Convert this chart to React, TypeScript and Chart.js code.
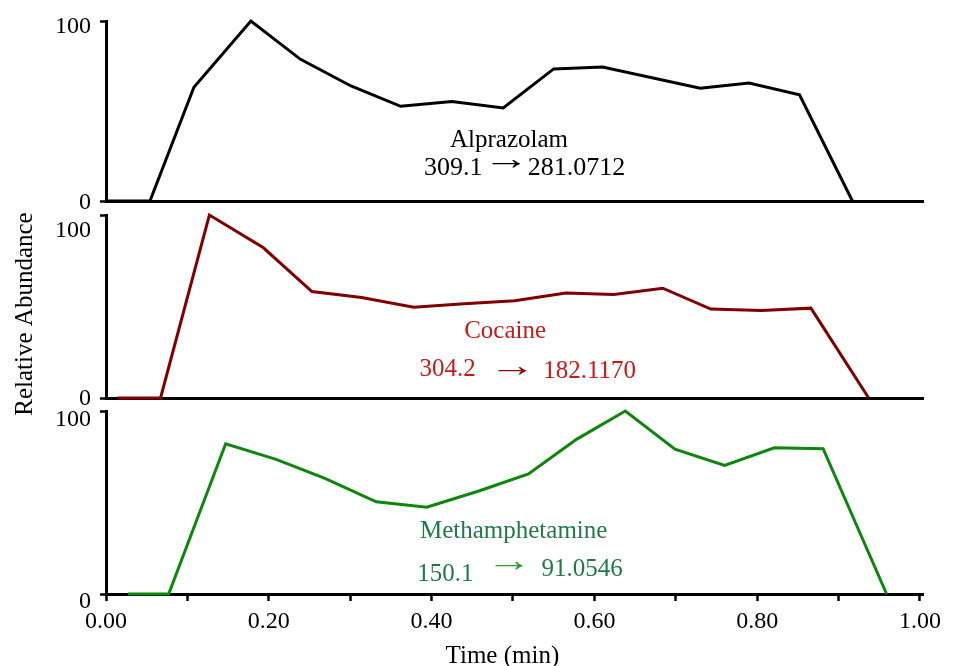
import React, { useEffect, useRef } from "react";
import { Chart, registerables } from "chart.js";

Chart.register(...registerables);

// ---------- data ----------
const alprazolamTime = [0.0, 0.054, 0.108, 0.178, 0.239, 0.301, 0.362, 0.425, 0.488, 0.55, 0.61, 0.73, 0.79, 0.852, 0.917];
const alprazolamAbundance = [0, 0, 63.2, 100, 78.7, 63.9, 52.6, 55.3, 51.7, 73.4, 74.4, 62.6, 65.6, 59.0, 0];

const cocaineTime = [0.014, 0.067, 0.127, 0.193, 0.253, 0.314, 0.378, 0.44, 0.502, 0.565, 0.624, 0.684, 0.743, 0.805, 0.866, 0.937];
const cocaineAbundance = [0, 0, 100, 82.2, 58.2, 54.9, 49.6, 51.5, 53.1, 57.4, 56.5, 60.0, 48.6, 47.8, 49.1, 0];

const methTime = [0.027, 0.077, 0.147, 0.209, 0.269, 0.332, 0.394, 0.459, 0.519, 0.578, 0.638, 0.699, 0.76, 0.821, 0.881, 0.959];
const methAbundance = [0, 0, 82.1, 73.6, 63.2, 50.4, 47.4, 56.4, 65.6, 84.5, 100, 79.1, 70.3, 79.9, 79.4, 0];

const xTickValues = [0, 0.1, 0.2, 0.3, 0.4, 0.5, 0.6, 0.7, 0.8, 0.9, 1.0];
const xTickLabels = ["0.00", "", "0.20", "", "0.40", "", "0.60", "", "0.80", "", "1.00"];
const yTickValues = [0, 100];
const yTickLabels = ["0", "100"];

const compoundNames = ["Alprazolam", "Cocaine", "Methamphetamine"];
const precursorIons = ["309.1", "304.2", "150.1"];
const productIons = ["281.0712", "182.1170", "91.0546"];

const xTitle = "Time (min)";
const yTitle = "Relative Abundance";

// ---------- layout / style ----------
const W = 954;
const H = 666;
const FONT = "'Liberation Serif', 'Times New Roman', Times, serif";
const X_MAX = 1.0037; // axis line runs a few pixels past the 1.00 tick

type TextItem = {
  text: string;
  x?: number;
  y?: number;
  px?: number;
  py?: number;
  color: string;
  size: number;
  align: CanvasTextAlign;
  baseline: CanvasTextBaseline;
  rotate?: number;
  width?: number; // stretch glyph ink to this width, centred on (x, y)
};

type Panel = {
  times: number[];
  values: number[];
  lineColor: string;
  top: number;
  bottom: number;
  showXAxis: boolean;
  yShift: number[];
  items: TextItem[];
};

const ARROW = "\u2192";

const panels: Panel[] = [
  {
    times: alprazolamTime,
    values: alprazolamAbundance,
    lineColor: "#000000",
    top: 19,
    bottom: 201,
    showXAxis: false,
    yShift: [2, 6],
    items: [
      { text: compoundNames[0], x: 0.4226, y: 30.2, color: "#000000", size: 25, align: "left", baseline: "alphabetic" },
      { text: precursorIons[0], x: 0.3907, y: 14.5, color: "#000000", size: 26, align: "left", baseline: "alphabetic" },
      { text: ARROW, x: 0.4914, y: 20.9, color: "#000000", size: 32, align: "center", baseline: "alphabetic", width: 29 },
      { text: productIons[0], x: 0.518, y: 14.5, color: "#000000", size: 26, align: "left", baseline: "alphabetic" },
    ],
  },
  {
    times: cocaineTime,
    values: cocaineAbundance,
    lineColor: "#800000",
    top: 215,
    bottom: 398,
    showXAxis: false,
    yShift: [1, 16],
    items: [
      { text: compoundNames[1], x: 0.44, y: 32.7, color: "#c81a1a", size: 25, align: "left", baseline: "alphabetic" },
      { text: precursorIons[1], x: 0.385, y: 11.8, color: "#c81a1a", size: 25, align: "left", baseline: "alphabetic" },
      { text: ARROW, x: 0.4988, y: 15.1, color: "#8b0a0a", size: 32, align: "center", baseline: "alphabetic", width: 29.5 },
      { text: productIons[1], x: 0.5372, y: 10.9, color: "#c81a1a", size: 25, align: "left", baseline: "alphabetic" },
      { text: yTitle, px: 31.5, py: 314, color: "#000000", size: 25, align: "center", baseline: "alphabetic", rotate: -Math.PI / 2 },
    ],
  },
  {
    times: methTime,
    values: methAbundance,
    lineColor: "#0c870c",
    top: 411,
    bottom: 594,
    showXAxis: true,
    yShift: [8, 9],
    items: [
      { text: compoundNames[2], x: 0.3857, y: 30.8, color: "#1e7b48", size: 25, align: "left", baseline: "alphabetic" },
      { text: precursorIons[2], x: 0.3824, y: 7.3, color: "#1e7b48", size: 25, align: "left", baseline: "alphabetic" },
      { text: ARROW, x: 0.495, y: 15.8, color: "#2e9a2e", size: 32, align: "center", baseline: "alphabetic", width: 28.5 },
      { text: productIons[2], x: 0.535, y: 10.0, color: "#1e7b48", size: 25, align: "left", baseline: "alphabetic" },
      { text: xTitle, x: 0.487, py: 663, color: "#000000", size: 25, align: "center", baseline: "alphabetic" },
    ],
  },
];

const textPlugin = {
  id: "panelText",
  afterDatasetsDraw(chart: any, _args: any, opts: any) {
    const items: TextItem[] = opts.items || [];
    const ctx: CanvasRenderingContext2D = chart.ctx;
    const xs = chart.scales.x;
    const ys = chart.scales.y;
    for (const it of items) {
      const px = it.px !== undefined ? it.px : xs.getPixelForValue(it.x as number);
      const py = it.py !== undefined ? it.py : ys.getPixelForValue(it.y as number);
      ctx.save();
      ctx.font = `${it.size}px ${FONT}`;
      ctx.fillStyle = it.color;
      ctx.translate(px, py);
      if (it.rotate) ctx.rotate(it.rotate);
      if (it.width) {
        ctx.textAlign = "left";
        ctx.textBaseline = "alphabetic";
        const m = ctx.measureText(it.text);
        const l = m.actualBoundingBoxLeft;
        const r = m.actualBoundingBoxRight;
        const inkW = l + r || m.width;
        const dy = (m.actualBoundingBoxAscent - m.actualBoundingBoxDescent) / 2;
        ctx.scale(it.width / inkW, 1);
        ctx.fillText(it.text, -(r - l) / 2, dy);
      } else {
        ctx.textAlign = it.align;
        ctx.textBaseline = it.baseline;
        ctx.fillText(it.text, 0, 0);
      }
      ctx.restore();
    }
  },
};

function buildConfig(p: Panel): any {
  const shiftFor = (v: number) => {
    const i = yTickValues.indexOf(v);
    return i >= 0 ? p.yShift[i] : 0;
  };
  return {
    type: "line",
    data: {
      datasets: [
        {
          data: p.times.map((t, i) => ({ x: t, y: p.values[i] })),
          borderColor: p.lineColor,
          borderWidth: 3,
          pointRadius: 0,
          tension: 0,
          fill: false,
          clip: false,
          borderJoinStyle: "miter",
        },
      ],
    },
    options: {
      responsive: false,
      animation: false,
      events: [],
      layout: {
        padding: {
          left: 0,
          right: 31,
          top: p.top,
          bottom: p.showXAxis ? 0 : H - p.bottom,
        },
      },
      plugins: {
        legend: { display: false },
        tooltip: { enabled: false },
        title: { display: false },
        panelText: { items: p.items },
      },
      scales: {
        x: {
          type: "linear",
          min: 0,
          max: X_MAX,
          afterBuildTicks: (scale: any) => {
            scale.ticks = xTickValues.map((v) => ({ value: v }));
          },
          afterFit: (scale: any) => {
            scale.height = p.showXAxis ? H - p.bottom : 0;
          },
          grid: {
            display: p.showXAxis,
            drawOnChartArea: false,
            drawTicks: true,
            tickLength: 7,
            tickWidth: 2.5,
            tickColor: "#000000",
          },
          border: { display: true, color: "#000000", width: 3 },
          ticks: {
            display: p.showXAxis,
            autoSkip: false,
            maxRotation: 0,
            minRotation: 0,
            padding: 6,
            color: "#000000",
            font: { family: FONT, size: 24 },
            callback: (_v: any, i: number) => xTickLabels[i],
          },
        },
        y: {
          type: "linear",
          min: 0,
          max: 100,
          afterBuildTicks: (scale: any) => {
            scale.ticks = yTickValues.map((v) => ({ value: v }));
          },
          afterFit: (scale: any) => {
            scale.width = 106;
          },
          grid: {
            display: true,
            drawOnChartArea: false,
            drawTicks: true,
            tickLength: 6,
            tickWidth: 2.5,
            tickColor: "#000000",
          },
          border: { display: true, color: "#000000", width: 3 },
          ticks: {
            padding: 9,
            color: "#000000",
            font: (ctx: any) => {
              const v = ctx.tick ? ctx.tick.value : 0;
              const s = shiftFor(v);
              return { family: FONT, size: 24, lineHeight: s > 0 ? `${2 * s}px` : 1.2 };
            },
            callback: (v: any) => {
              const label = yTickLabels[yTickValues.indexOf(v)] ?? String(v);
              return shiftFor(v) > 0 ? ["", label] : label;
            },
          },
        },
      },
    },
    plugins: [textPlugin],
  };
}

function PanelChart({ panel }: { panel: Panel }) {
  const ref = useRef<HTMLCanvasElement | null>(null);
  useEffect(() => {
    if (!ref.current) return;
    const chart = new Chart(ref.current, buildConfig(panel));
    return () => chart.destroy();
  }, [panel]);
  return (
    <canvas
      ref={ref}
      width={W}
      height={H}
      style={{ position: "absolute", left: 0, top: 0, width: W, height: H }}
    />
  );
}

export default function App() {
  return (
    <div style={{ position: "absolute", left: 0, top: 0, width: W, height: H, background: "#ffffff" }}>
      {panels.map((p, i) => (
        <PanelChart key={i} panel={p} />
      ))}
    </div>
  );
}
